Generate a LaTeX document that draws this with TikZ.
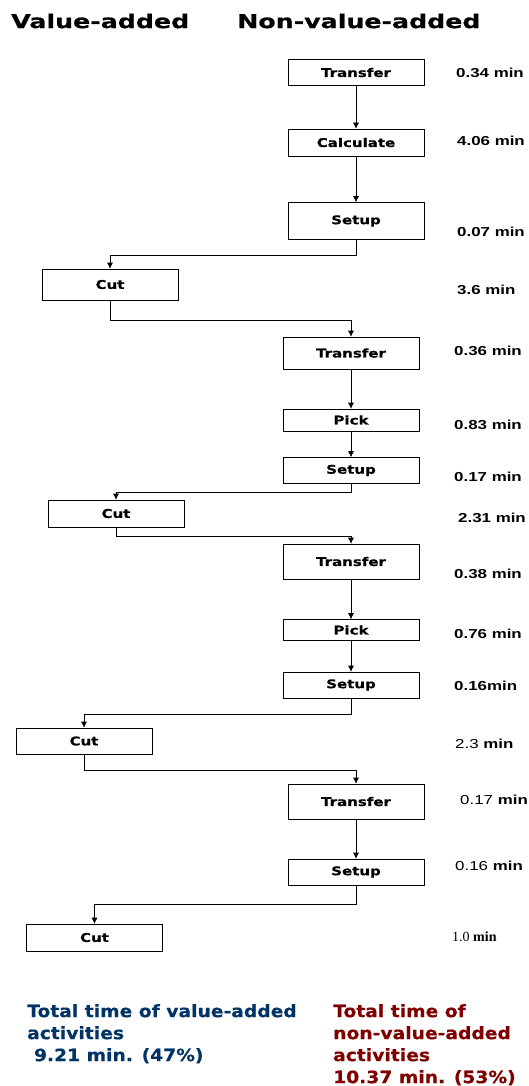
\documentclass[tikz,border=0pt]{standalone}
\usepackage{fontspec}
\usepackage{tikz}
\usetikzlibrary{arrows.meta}

\newfontfamily\headfont{DejaVu Sans}[FakeStretch=1.33,BoldFeatures={FakeBold=0.6}]
\newfontfamily\boxfont{DejaVu Sans}[FakeStretch=1.25,BoldFeatures={FakeBold=0.6}]
\newfontfamily\totfont{DejaVu Sans}[FakeStretch=1.1,BoldFeatures={FakeBold=0.5}]
\newfontfamily\minfont{Liberation Sans}[FakeStretch=1.3]
\newfontfamily\serfont{Liberation Serif}

\definecolor{vablue}{RGB}{0,51,102}
\definecolor{nvared}{RGB}{128,0,0}

\begin{document}
\begin{tikzpicture}[x=1pt,y=-1pt,
    actbox/.style={draw, line width=0.6pt, minimum width=136, inner sep=0pt,
        font=\boxfont\bfseries\fontsize{12}{14}\selectfont},
    flow/.style={line width=0.6pt, -{Latex[length=6pt,width=6pt]}},
    mins/.style={anchor=west, inner sep=0pt, font=\minfont\bfseries\fontsize{13}{15}\selectfont},
    total/.style={anchor=north west, inner sep=0pt, align=left,
        font=\totfont\bfseries\fontsize{17}{22}\selectfont}]
    \useasboundingbox (0,0) rectangle (529,1086);

    % headings
    \node [anchor=west, inner sep=0pt, font=\headfont\bfseries\fontsize{19}{22}\selectfont] (hva) at (11,21) {Value-added};
    \node [anchor=west, inner sep=0pt, font=\headfont\bfseries\fontsize{19}{22}\selectfont] (hnva) at (237,21) {Non-value-added};

    % activities
    \node [actbox, minimum height=26] (tr1) at (356,72.5) {Transfer};
    \node [actbox, minimum height=27] (calc) at (356,142.5) {Calculate};
    \node [actbox, minimum height=37] (set1) at (356,221) {Setup};
    \node [actbox, minimum height=31] (cut1) at (110,284.5) {Cut};
    \node [actbox, minimum height=32] (tr2) at (351,353) {Transfer};
    \node [actbox, minimum height=22] (pick1) at (351,420) {Pick};
    \node [actbox, minimum height=26] (set2) at (351,470.5) {Setup};
    \node [actbox, minimum height=27] (cut2) at (116,513.5) {Cut};
    \node [actbox, minimum height=35] (tr3) at (351,561.5) {Transfer};
    \node [actbox, minimum height=21] (pick2) at (351,630) {Pick};
    \node [actbox, minimum height=26] (set3) at (351,685) {Setup};
    \node [actbox, minimum height=26] (cut3) at (84,741) {Cut};
    \node [actbox, minimum height=35] (tr4) at (356,801.5) {Transfer};
    \node [actbox, minimum height=26] (set4) at (356,872) {Setup};
    \node [actbox, minimum height=27] (cut4) at (94.5,937.5) {Cut};

    \foreach \a/\b in {tr1/calc,calc/set1,tr2/pick1,pick1/set2,tr3/pick2,pick2/set3,tr4/set4}
        {\draw [flow] (\a) -- (\b);}
    \foreach \a/\b/\d in {set1/cut1/15,cut1/tr2/20,set2/cut2/8,cut2/tr3/9,set3/cut3/16,cut3/tr4/16,set4/cut4/19}
        {\draw [flow] (\a.south) -- ++(0,\d) -| (\b.north);}

    % times
    \node [mins] (m1) at (456,73) {0.34 min};
    \node [mins] (m2) at (457,141) {4.06 min};
    \node [mins] (m3) at (457,232) {0.07 min};
    \node [mins] (m4) at (457,290) {3.6 min};
    \node [mins] (m5) at (454,351) {0.36 min};
    \node [mins] (m6) at (454,425) {0.83 min};
    \node [mins] (m7) at (454,477) {0.17 min};
    \node [mins] (m8) at (458,518) {2.31 min};
    \node [mins] (m9) at (454,574) {0.38 min};
    \node [mins] (m10) at (454,634) {0.76 min};
    \node [mins] (m11) at (454,686) {0.16min};
    \node [mins] (m12) at (455,744) {\mdseries 2.3 \bfseries min};
    \node [mins] (m13) at (460,800) {\mdseries 0.17 \bfseries min};
    \node [mins] (m14) at (455,866) {\mdseries 0.16 \bfseries min};
    \node [mins, font=\serfont\fontsize{14}{16}\selectfont] (m15) at (452,937) {1.0 \textbf{min}};

    % totals
    \node [total, text=vablue] (tva) at (27,1004) {Total time of value-added\\activities\\\hspace*{0.4em}9.21 min. (47\%)};
    \node [total, text=nvared] (tnva) at (333,1004) {Total time of\\non-value-added\\activities\\10.37 min. (53\%)};
\end{tikzpicture}
\end{document}
